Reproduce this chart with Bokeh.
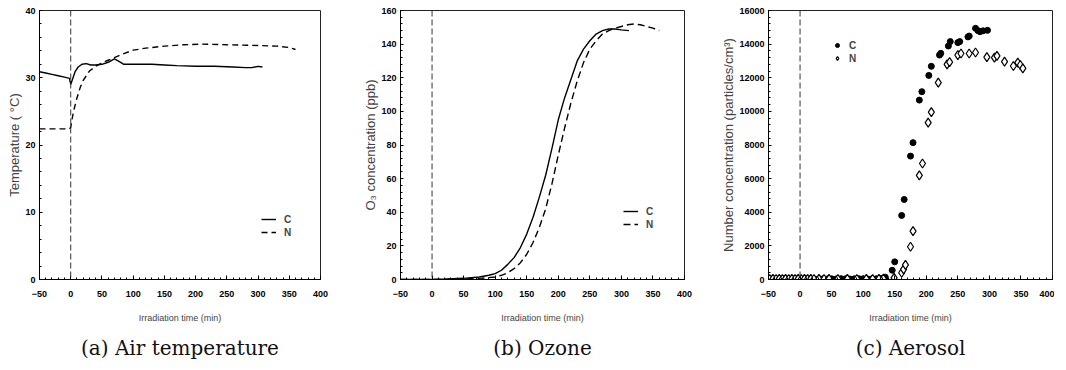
from bokeh.plotting import figure
from bokeh.models import Range1d, FixedTicker, Span, Legend, LegendItem, Title
from bokeh.layouts import row
from bokeh.embed import file_html
from bokeh.resources import INLINE

# ---------------- data ----------------
# (a) Air temperature
temp_c_time = [-50, -40, -30, -20, -10, -2, 0, 3, 7, 12, 18, 25, 32, 40, 50, 60, 70, 78, 85, 100,
               130, 150, 170, 200, 230, 260, 280, 290, 300, 307]
temp_c = [30.9, 30.7, 30.5, 30.3, 30.1, 29.9, 29.0, 29.8, 30.9, 31.6, 32.0, 32.1, 31.9, 31.9, 32.0,
          32.3, 32.8, 32.4, 32.0, 32.0, 32.0, 31.9, 31.8, 31.7, 31.7, 31.6, 31.5, 31.5, 31.7, 31.6]
temp_n_time = [-50, -2, 0, 2, 5, 10, 15, 20, 30, 40, 50, 60, 70, 85, 100, 120, 150, 180, 210, 250,
               300, 330, 350, 360]
temp_n = [22.4, 22.4, 22.6, 23.8, 25.2, 27.0, 28.5, 29.6, 31.0, 31.7, 32.2, 32.6, 33.0, 33.6, 34.1,
          34.4, 34.7, 34.9, 35.0, 34.9, 34.8, 34.7, 34.5, 34.2]

# (b) Ozone
o3_c_time = [-50, 0, 25, 50, 75, 90, 100, 110, 120, 130, 140, 150, 160, 170, 180, 190, 200, 210,
             220, 230, 240, 250, 260, 270, 280, 290, 300, 312]
o3_c = [0, 0, 0.3, 0.7, 1.5, 2.5, 3.5, 5.5, 9, 13, 19, 27, 37, 49, 62, 78, 95, 108, 119, 130, 137,
        142, 146, 148, 149, 149, 148.5, 148]
o3_n_time = [-50, 0, 50, 80, 100, 110, 120, 130, 140, 150, 160, 170, 180, 190, 200, 210, 220, 230,
             240, 250, 260, 270, 280, 290, 300, 310, 320, 330, 340, 350, 360]
o3_n = [0, 0, 0.3, 0.8, 1.5, 2.5, 4, 6.5, 10, 15, 22, 31, 42, 57, 74, 90, 105, 118, 129, 137, 142,
        146, 148, 149.5, 150.5, 151.5, 152, 151.5, 150.5, 149.5, 148]

# (c) Aerosol
aer_c_time = [-47, -40, -33, -26, -19, -12, -5, 2, 9, 16, 23, 30, 37, 44, 51, 58, 65, 72, 79, 86,
              93, 100, 107, 114, 121, 128, 135, 146, 150, 161, 165, 175, 179, 189, 193, 204, 208,
              221, 223, 235, 238, 250, 253, 266, 268, 278, 282, 285, 290, 297]
aer_c = [40, 30, 50, 40, 30, 50, 40, 30, 40, 50, 30, 40, 50, 40, 30, 40, 50, 40, 30, 40,
         50, 40, 30, 40, 50, 60, 140, 550, 1050, 3810, 4760, 7340, 8140, 10670, 11170, 12140, 12680,
         13350, 13450, 13890, 14150, 14090, 14150, 14430, 14480, 14940, 14800, 14740, 14790, 14820]
aer_n_time = [-48, -43, -38, -33, -28, -23, -18, -13, -8, -3, 2, 7, 12, 17, 22, 30, 38, 46, 60, 75,
              90, 105, 115, 125, 132, 149, 161, 164, 167, 175, 179, 189, 194, 203, 208, 219, 233,
              237, 250, 255, 268, 278, 296, 308, 312, 324, 338, 345, 349, 353]
aer_n = [30, 40, 30, 40, 30, 40, 30, 40, 30, 40, 30, 40, 30, 40, 30, 40, 30, 40, 30, 40,
         30, 40, 30, 40, 50, 100, 400, 600, 870, 1950, 2880, 6190, 6900, 9330, 9960, 11710, 12800,
         12930, 13350, 13440, 13440, 13500, 13230, 13200, 13300, 12960, 12700, 12900, 12760, 12560]

x_ticks = [-50, 0, 50, 100, 150, 200, 250, 300, 350, 400]
y_ticks_a = [0, 10, 20, 30, 40]
y_ticks_b = [0, 20, 40, 60, 80, 100, 120, 140, 160]
y_ticks_c = [0, 2000, 4000, 6000, 8000, 10000, 12000, 14000, 16000]

TICK_FONT = "Liberation Sans"


def make_fig(y_max, y_ticks, y_label, frame_w, left, right):
    p = figure(frame_width=frame_w, frame_height=269,
               x_range=Range1d(-50, 400), y_range=Range1d(0, y_max),
               output_backend="svg", toolbar_location=None,
               min_border_left=left, min_border_right=right,
               min_border_top=10, min_border_bottom=0)
    p.grid.visible = False
    p.outline_line_color = "#222222"
    p.outline_line_width = 1
    p.background_fill_color = "white"
    p.border_fill_color = "white"

    xa = p.xaxis[0]
    xa.ticker = FixedTicker(ticks=x_ticks, minor_ticks=list(range(-50, 401, 10)))
    xa.major_tick_in = 4
    xa.major_tick_out = 0
    xa.minor_tick_in = 2
    xa.minor_tick_out = 0
    xa.major_label_standoff = 11
    xa.major_label_text_font = TICK_FONT
    xa.major_label_text_font_style = "bold"
    xa.major_label_text_font_size = "9px"
    xa.major_label_text_color = "black"
    xa.axis_label = "Irradiation time (min)"
    xa.axis_label_text_font = TICK_FONT
    xa.axis_label_text_font_style = "normal"
    xa.axis_label_text_font_size = "9px"
    xa.axis_label_standoff = 13
    xa.axis_line_color = "black"

    ya = p.yaxis[0]
    step = y_ticks[1] - y_ticks[0]
    ya.ticker = FixedTicker(ticks=y_ticks,
                            minor_ticks=[y_ticks[0] + i * step / 5 for i in range(5 * (len(y_ticks) - 1) + 1)])
    ya.major_tick_in = 3
    ya.major_tick_out = 0
    ya.minor_tick_in = 2
    ya.minor_tick_out = 0
    ya.major_label_standoff = 4
    ya.major_label_text_font = TICK_FONT
    ya.major_label_text_font_style = "bold"
    ya.major_label_text_font_size = "9px"
    ya.major_label_text_color = "black"
    ya.axis_label = y_label
    ya.axis_label_text_font = TICK_FONT
    ya.axis_label_text_font_style = "normal"
    ya.axis_label_text_font_size = "13px"
    ya.axis_label_standoff = 0
    ya.axis_line_color = "black"

    p.add_layout(Span(location=0, dimension="height", line_color="#333333",
                      line_dash="6 3", line_width=1))
    return p


def add_caption(p, text):
    t = Title(text=text, align="center", text_font="DejaVu Serif",
              text_font_size="20px", text_font_style="normal", text_color="#111111",
              standoff=16)
    p.add_layout(t, "below")


def style_legend(leg):
    leg.background_fill_alpha = 0
    leg.border_line_alpha = 0
    leg.padding = 0
    leg.margin = 0
    leg.spacing = 1
    leg.label_text_font = TICK_FONT
    leg.label_text_font_size = "10px"
    leg.label_text_font_style = "bold"
    leg.label_height = 12
    leg.glyph_height = 12


# (a)
pa = make_fig(40, y_ticks_a, "Temperature ( °C)", 281, 39, 38)
ra1 = pa.line(temp_c_time, temp_c, line_color="black", line_width=1.4)
ra2 = pa.line(temp_n_time, temp_n, line_color="black", line_width=1.4, line_dash="6 4")
lega = Legend(items=[LegendItem(label="C", renderers=[ra1]), LegendItem(label="N", renderers=[ra2])],
              location=(222, 41), glyph_width=15, label_standoff=8)
style_legend(lega)
pa.add_layout(lega)
add_caption(pa, "(a) Air temperature")

# (b)
pb = make_fig(160, y_ticks_b, "O\u2083 concentration (ppb)", 284, 42, 30)
rb1 = pb.line(o3_c_time, o3_c, line_color="black", line_width=1.4)
rb2 = pb.line(o3_n_time, o3_n, line_color="black", line_width=1.4, line_dash="7 4")
legb = Legend(items=[LegendItem(label="C", renderers=[rb1]), LegendItem(label="N", renderers=[rb2])],
              location=(223, 49), glyph_width=15, label_standoff=8)
style_legend(legb)
pb.add_layout(legb)
add_caption(pb, "(b) Ozone")

# (c)
pc = make_fig(16000, y_ticks_c, "Number concentration (particles/cm\u00b3)", 284, 54, 2)
rc1 = pc.scatter(aer_c_time, aer_c, marker="circle", size=6, fill_color="black", line_color="black")
rc2 = pc.scatter(aer_n_time, aer_n, marker="diamond", size=9, fill_color="white",
                 line_color="black", line_width=1.2)
legc = Legend(items=[LegendItem(label="C", renderers=[rc1]), LegendItem(label="N", renderers=[rc2])],
              location=(64, 215), glyph_width=10, label_standoff=7)
style_legend(legc)
pc.add_layout(legc)
add_caption(pc, "(c) Aerosol")

layout = row(pa, pb, pc, spacing=0)
open("out.html", "w").write(file_html(layout, INLINE))
